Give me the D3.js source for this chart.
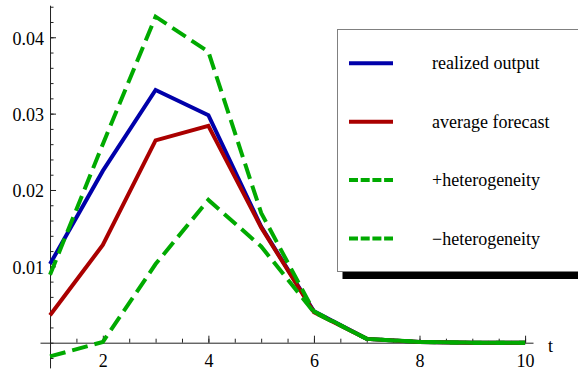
<!DOCTYPE html>
<html>
<head>
<meta charset="utf-8">
<script src="https://cdn.jsdelivr.net/npm/d3@7"></script>
<style>
  body { margin: 0; background: #fff; }
  svg { display: block; }
  svg text { font-family: "Liberation Serif", "Times New Roman", Times, "DejaVu Serif", serif; }
</style>
</head>
<body>
<svg id="chart" width="578" height="370"></svg>
<script>
// data
const t = [1, 2, 3, 4, 5, 6, 7, 8, 9, 10];
const realized = [0.0103, 0.0225, 0.0331, 0.0298, 0.0152, 0.0041, 0.0005, 0.0001, 0, 0];
const average = [0.0036, 0.0128, 0.0265, 0.0284, 0.0151, 0.0040, 0.0005, 0.0001, 0, 0];
const plusHet = [0.0089, 0.0260, 0.0427, 0.0381, 0.0170, 0.0041, 0.0005, 0.0001, 0, 0];
const minusHet = [-0.0018, 0.0001, 0.0103, 0.0187, 0.0126, 0.0040, 0.0005, 0.0001, 0, 0];
const xTicks = [2, 4, 6, 8, 10];
const yTicks = [0.01, 0.02, 0.03, 0.04];
const legendLabels = ["realized output", "average forecast", "+heterogeneity", "\u2212heterogeneity"];

const serif = "'Liberation Serif', 'Times New Roman', Times, 'DejaVu Serif', serif";

const series = [
  {name: legendLabels[0], values: realized, color: "#0000aa", dash: null},
  {name: legendLabels[1], values: average, color: "#aa0000", dash: null},
  {name: legendLabels[2], values: plusHet, color: "#00aa00", dash: "16,7"},
  {name: legendLabels[3], values: minusHet, color: "#00aa00", dash: "16,7"}
];

const svg = d3.select("#chart");

const x = d3.scaleLinear().domain([0.81, 10.15]).range([40, 533]);
const y = d3.scaleLinear().domain([-0.0033, 0.0442]).range([367.9, 5.2]);

// minor ticks
const xMinor = d3.range(1, 10.01, 0.5);
const yMinor = d3.range(-0.002, 0.0441, 0.002);

// serif labels instead of d3's default sans-serif
function styleAxis(g) {
  g.attr("font-family", serif).attr("font-size", 18);
  g.selectAll("line, path").attr("stroke", "#222");
  g.selectAll("text").attr("font-family", serif).attr("font-size", 18).attr("fill", "#000");
}

// x axis
svg.append("g")
  .attr("transform", "translate(0," + y(0) + ")")
  .call(d3.axisBottom(x).tickValues(xMinor).tickSize(-4).tickSizeOuter(0).tickFormat(""))
  .call(styleAxis);

svg.append("g")
  .attr("transform", "translate(0," + y(0) + ")")
  .call(d3.axisBottom(x).tickValues(xTicks).tickSize(-7).tickSizeOuter(0).tickPadding(12))
  .call(g => g.select(".domain").remove())
  .call(styleAxis);

// y axis
svg.append("g")
  .attr("transform", "translate(" + x(1) + ",0)")
  .call(d3.axisLeft(y).tickValues(yMinor).tickSize(-3.5).tickSizeOuter(0).tickFormat(""))
  .call(styleAxis);

svg.append("g")
  .attr("transform", "translate(" + x(1) + ",0)")
  .call(d3.axisLeft(y).tickValues(yTicks).tickSize(-6).tickSizeOuter(0).tickPadding(6).tickFormat(d3.format(".2f")))
  .call(g => g.select(".domain").remove())
  .call(styleAxis)
  .call(g => g.selectAll("text").attr("dy", "0.38em"));

// axis label
svg.append("text")
  .attr("x", 548)
  .attr("y", 352)
  .attr("font-family", serif)
  .attr("font-size", 18)
  .text("t");

// lines
const line = d3.line()
  .x((d, i) => x(t[i]))
  .y(d => y(d));

svg.selectAll(".series")
  .data(series)
  .enter()
  .append("path")
  .attr("class", "series")
  .attr("d", d => line(d.values))
  .attr("fill", "none")
  .attr("stroke", d => d.color)
  .attr("stroke-width", 4)
  .attr("stroke-linejoin", "miter")
  .attr("stroke-dasharray", d => d.dash);

// legend
const legend = svg.append("g");
legend.append("rect")
  .attr("x", 342.5).attr("y", 36)
  .attr("width", 260).attr("height", 243)
  .attr("fill", "#000");
legend.append("rect")
  .attr("x", 337.5).attr("y", 29.5)
  .attr("width", 260).attr("height", 242)
  .attr("fill", "#fff")
  .attr("stroke", "#808080")
  .attr("stroke-width", 1);

const rows = legend.selectAll(".row")
  .data(series)
  .enter()
  .append("g")
  .attr("transform", (d, i) => "translate(0," + (63.3 + i * 58.4) + ")");

rows.append("line")
  .attr("x1", 349).attr("x2", 393)
  .attr("stroke", d => d.color)
  .attr("stroke-width", 4)
  .attr("stroke-dasharray", d => d.dash ? "9,2.7" : null);

rows.append("text")
  .attr("x", 432)
  .attr("y", 6)
  .attr("font-family", serif)
  .attr("font-size", 18)
  .text(d => d.name);
</script>
</body>
</html>
